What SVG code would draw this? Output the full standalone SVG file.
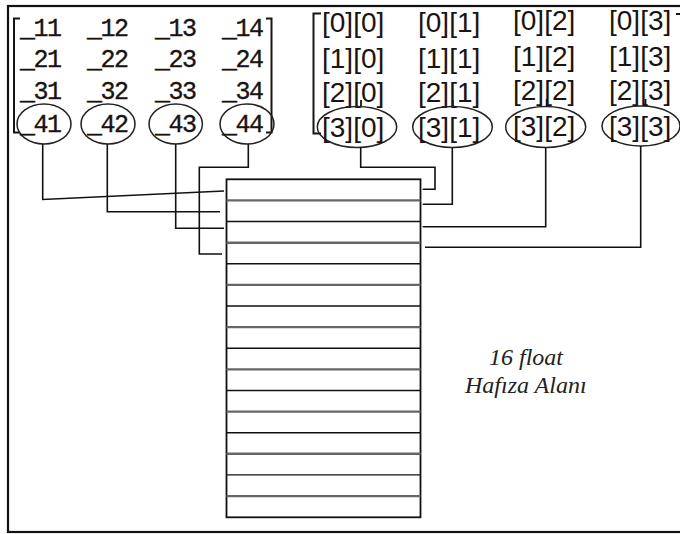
<svg xmlns="http://www.w3.org/2000/svg" width="680" height="534" viewBox="0 0 680 534">
<style>
.mono{font-family:"Liberation Mono","Courier New",monospace;font-size:25px;fill:#1a1410;stroke:#1a1410;stroke-width:0.35}
.idx{font-family:"Liberation Sans",Arial,sans-serif;font-size:28px;fill:#1a1410}
.lbl{font-family:"Liberation Serif","Times New Roman",serif;font-style:italic;font-size:24px;fill:#222}
.ell{fill:none;stroke:#222;stroke-width:1.5}
.br{fill:none;stroke:#1a1410;stroke-width:2}
.stub{stroke:#1a1410;stroke-width:1.8}
.conn path{fill:none;stroke:#111;stroke-width:1.6}
.row{stroke:#111;stroke-width:1.4}
.rowg{stroke:#666;stroke-width:2.4}
</style>
<rect x="0" y="0" width="680" height="534" fill="#fff"/>
<rect x="8" y="6" width="690" height="526" fill="none" stroke="#111" stroke-width="2.2"/>

<g id="left-matrix">
  <path class="br" d="M20,18.5 H14 V132.5 H20"/>
  <path class="br" d="M266,18.5 H271.5 V132.5 H266"/>
  <text class="mono" x="20" y="36" textLength="42">_11</text>
  <text class="mono" x="87" y="36" textLength="42">_12</text>
  <text class="mono" x="155" y="36" textLength="42">_13</text>
  <text class="mono" x="222" y="36" textLength="42">_14</text>
  <text class="mono" x="20" y="67" textLength="42">_21</text>
  <text class="mono" x="87" y="67" textLength="42">_22</text>
  <text class="mono" x="155" y="67" textLength="42">_23</text>
  <text class="mono" x="222" y="67" textLength="42">_24</text>
  <text class="mono" x="20" y="99" textLength="42">_31</text>
  <text class="mono" x="87" y="99" textLength="42">_32</text>
  <text class="mono" x="155" y="99" textLength="42">_33</text>
  <text class="mono" x="222" y="99" textLength="42">_34</text>
  <g id="e41"><ellipse class="ell" cx="44" cy="124" rx="27" ry="20"/><text class="mono" x="20" y="132" textLength="42">_41</text></g>
  <g id="e42"><ellipse class="ell" cx="108" cy="124" rx="27" ry="20"/><text class="mono" x="87" y="132" textLength="42">_42</text></g>
  <g id="e43"><ellipse class="ell" cx="175.7" cy="124" rx="26.7" ry="20"/><text class="mono" x="155" y="132" textLength="42">_43</text></g>
  <g id="e44"><ellipse class="ell" cx="247" cy="124" rx="27" ry="20"/><text class="mono" x="222" y="132" textLength="42">_44</text></g>
</g>

<g id="right-matrix">
  <path class="br" d="M321,13.5 H313.5 V133.5 H321"/>
  <path class="br" d="M676,14 H680"/>
  <line class="stub" x1="361" y1="100" x2="361" y2="107"/>
  <line class="stub" x1="452.7" y1="100" x2="452.7" y2="107"/>
  <line class="stub" x1="546.7" y1="99" x2="546.7" y2="107"/>
  <line class="stub" x1="645.5" y1="99" x2="645.5" y2="106"/>
  <text class="idx" x="322" y="32">[0][0]</text>
  <text class="idx" x="418" y="32">[0][1]</text>
  <text class="idx" x="513" y="30">[0][2]</text>
  <text class="idx" x="609" y="30">[0][3]</text>
  <text class="idx" x="322" y="68">[1][0]</text>
  <text class="idx" x="418" y="68">[1][1]</text>
  <text class="idx" x="513" y="66">[1][2]</text>
  <text class="idx" x="609" y="66">[1][3]</text>
  <text class="idx" x="322" y="101.5">[2][0]</text>
  <text class="idx" x="418" y="101.5">[2][1]</text>
  <text class="idx" x="513" y="100">[2][2]</text>
  <text class="idx" x="609" y="100">[2][3]</text>
  <g id="e30"><ellipse class="ell" cx="357" cy="127" rx="39.7" ry="20.5"/><text class="idx" x="322" y="136.5">[3][0]</text></g>
  <g id="e31"><ellipse class="ell" cx="452.5" cy="127" rx="39.8" ry="20.5"/><text class="idx" x="418" y="136.5">[3][1]</text></g>
  <g id="e32"><ellipse class="ell" cx="545.7" cy="127" rx="40" ry="20.5"/><text class="idx" x="513" y="136">[3][2]</text></g>
  <g id="e33"><ellipse class="ell" cx="641" cy="126" rx="39" ry="20"/><text class="idx" x="609" y="136">[3][3]</text></g>
</g>

<g id="memory">
  <rect x="226.5" y="179.3" width="194" height="338" fill="none" stroke="#111" stroke-width="1.8"/>
  <line class="rowg" x1="226.5" x2="420.5" y1="200.4" y2="200.4"/>
  <line class="row" x1="226.5" x2="420.5" y1="221.5" y2="221.5"/>
  <line class="rowg" x1="226.5" x2="420.5" y1="242.7" y2="242.7"/>
  <line class="row" x1="226.5" x2="420.5" y1="263.8" y2="263.8"/>
  <line class="rowg" x1="226.5" x2="420.5" y1="284.9" y2="284.9"/>
  <line class="row" x1="226.5" x2="420.5" y1="306" y2="306"/>
  <line class="rowg" x1="226.5" x2="420.5" y1="327.1" y2="327.1"/>
  <line class="row" x1="226.5" x2="420.5" y1="348.2" y2="348.2"/>
  <line class="rowg" x1="226.5" x2="420.5" y1="369.4" y2="369.4"/>
  <line class="row" x1="226.5" x2="420.5" y1="390.5" y2="390.5"/>
  <line class="rowg" x1="226.5" x2="420.5" y1="411.6" y2="411.6"/>
  <line class="row" x1="226.5" x2="420.5" y1="432.7" y2="432.7"/>
  <line class="rowg" x1="226.5" x2="420.5" y1="453.8" y2="453.8"/>
  <line class="row" x1="226.5" x2="420.5" y1="474.9" y2="474.9"/>
  <line class="rowg" x1="226.5" x2="420.5" y1="496.1" y2="496.1"/>
</g>

<g id="label">
  <text class="lbl" x="489" y="365">16 float</text>
  <text class="lbl" x="465" y="393">Hafıza Alanı</text>
</g>

<g class="conn" id="connectors">
  <path d="M42.7,144 V199.5 L224,191"/>
  <path d="M107.3,144 V211.7 H220"/>
  <path d="M175.7,144 V228.3 H224"/>
  <path d="M248.3,144 V167.3 H199.3 V254 H222"/>
  <path d="M360.7,147.5 V167.3 H435 V189.3 H422.7"/>
  <path d="M452.3,147.5 V204.3 H422.7"/>
  <path d="M545.7,147.5 V226.7 H422.7"/>
  <path d="M640.7,146 V247.3 H425"/>
</g>
</svg>
